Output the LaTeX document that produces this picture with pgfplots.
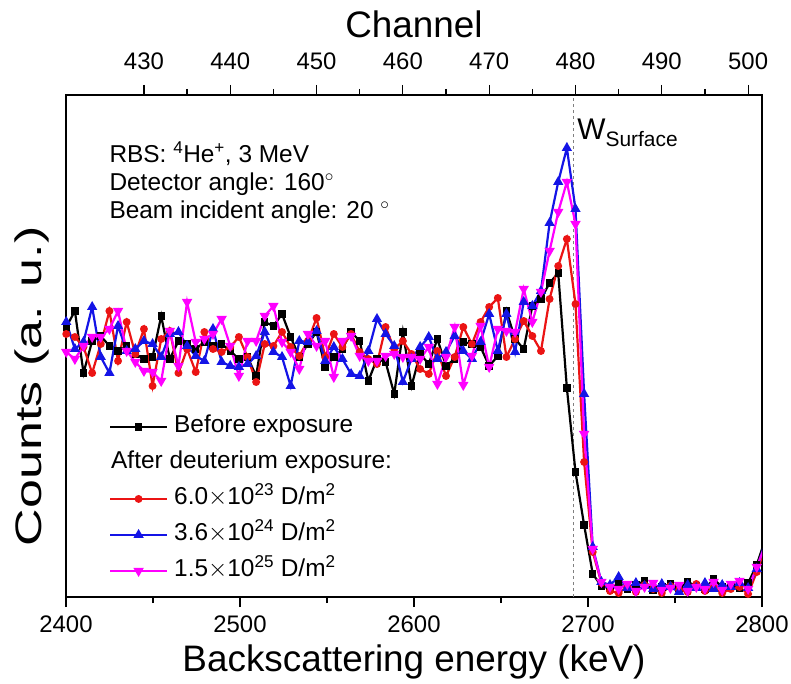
\documentclass[border=0pt]{standalone}
\usepackage{pgfplots}
\pgfplotsset{compat=1.18}
\usepackage{pgfplotstable}
\usepackage{fontspec}
\setmainfont{Liberation Sans}

% c = channel, k = before exposure, r = 6.0e23, b = 3.6e24, m = 1.5e25
\pgfplotstableread{
c   k   r   b   m
421 270 263 275 245
422 286 260 248 238
423 224 250 255 251
424 256 224 290 260
425 261 253 240 260
426 251 286 224 268
427 246 236 271 286
428 251 275 246 246
429 243 243 248 235
430 238 268 256 226
431 240 211 253 225
432 281 258 240 216
433 238 266 263 266
434 256 224 265 231
435 253 248 251 295
436 248 225 241 255
437 255 265 236 258
438 251 248 268 263
439 253 245 235 278
440 246 250 231 251
441 238 260 230 221
442 240 240 233 256
443 221 215 241 256
444 275 253 265 281
445 271 251 245 291
446 283 265 240 255
447 260 250 211 245
448 240 241 256 228
449 253 256 255 263
450 265 279 266 251
451 230 240 236 256
452 240 263 250 220
453 248 250 238 256
454 265 263 223 261
455 256 245 221 241
456 216 238 246 236
457 238 233 278 236
458 235 270 263 241
459 203 248 251 243
460 265 256 215 240
461 211 243 238 240
462 243 228 250 238
463 233 223 260 250
464 258 246 238 213
465 231 221 245 240
466 238 240 261 270
467 255 270 246 212
468 253 253 238 241
469 250 275 255 271
470 231 290 283 230
471 241 299 246 268
472 286 240 283 266
473 258 258 245 265
474 248 276 295 308
475 291 261 291 275
476 298 246 306 305
477 314 298 374 346
478 324 331 415 385
479 209 358 449 415
480 125 293 388 373
481 72  135 203 163
482 23  45  50  48
483 11  14  15  15
484 9   6   12  10
485 14  4   20  8
486 8   10  9   13
487 12  5   14  6
488 16  12  11  10
489 7   8   8   14
490 10  4   13  7
491 13  11  10  9
492 9   7   5   12
493 15  5   12  6
494 11  13  9   10
495 8   6   14  8
496 18  9   8   15
497 10  4   12  7
498 12  8   10  13
499 9   10  14  16
500 14  3   9   8
501 32  25  28  30
502 58  50  55  52
}\spectra

\definecolor{cred}{RGB}{235,20,20}
\definecolor{cblue}{RGB}{20,20,230}
\definecolor{cmag}{RGB}{255,0,255}

\pgfplotsset{
  rbs/.style={
    scale only axis, width=696bp, height=502bp,
    ymin=0, ymax=502, ytick=\empty,
    tick align=outside,
    major tick length=10bp, minor tick length=6bp,
    minor x tick num=1,
    axis line style={line width=1.4bp},
    every tick/.style={black, line width=1.2bp},
    ticklabel style={font=\fontsize{24}{28}\selectfont},
    label style={font=\fontsize{37}{40}\selectfont},
    /pgf/number format/assume math mode=true,
    /pgf/number format/1000 sep={},
  },
}

\begin{document}
\begin{tikzpicture}
\begin{axis}[rbs, name=main,
    xmin=2400, xmax=2800,
    xtick={2400,2500,...,2800},
    xtick pos=left,
    xticklabel style={yshift=-5bp},
    xlabel={Backscattering energy (keV)},
    ylabel={Counts (a. u.)},
    xlabel style={yshift=-5bp},
    ylabel style={at={(rel axis cs:-0.049,0.42)}, anchor=center, xscale=1.41},
  ]
  \node[anchor=base west, font=\fontsize{24.5}{28}\selectfont]
    at (rel axis cs:0.0575,0.866) {RBS: \textsuperscript{4}He\textsuperscript{+}, 3 MeV};
  \node[anchor=base west, font=\fontsize{24.5}{28}\selectfont]
    at (rel axis cs:0.0575,0.810) {Detector angle: 160\textsuperscript{$\circ$}};
  \node[anchor=base west, font=\fontsize{24.5}{28}\selectfont]
    at (rel axis cs:0.0575,0.754) {Beam incident angle: 20 \textsuperscript{$\circ$}};
\end{axis}

\begin{axis}[rbs,
    xmin=420.97, xmax=501.61,
    axis x line*=top, axis y line=none,
    xtick={430,440,...,500},
    xticklabel style={yshift=12bp},
    xlabel={Channel},
    xlabel style={yshift=8bp},
    legend style={
      at={(rel axis cs:0.0615,0.367)}, anchor=north west,
      draw=none, fill=none, inner sep=0pt,
      row sep=8bp, column sep=4bp,
      font=\fontsize{24.5}{28}\selectfont,
      nodes={inner sep=2bp, text height=18bp, text depth=6bp},
      cells={anchor=west},
    },
    legend image code/.code={
      \draw[mark repeat=2, mark phase=2, #1]
        plot coordinates {(0bp,0bp) (28.5bp,0bp) (57bp,0bp)};
    },
  ]
  \addplot[gray, dashed, line width=1bp, forget plot]
    coordinates {(479.8,0) (479.8,502)};

  \addplot[black, line width=2.2bp, mark=square*, mark size=2.6bp]
    table[x=c, y=k] {\spectra};
  \addlegendentry{Before exposure}
  \addlegendimage{empty legend}
  \addlegendentry{\hspace{-63bp}After deuterium exposure:}
  \addplot[cred, line width=2.2bp, mark=*, mark size=2.8bp]
    table[x=c, y=r] {\spectra};
  \addlegendentry{6.0$\times$10\textsuperscript{23} D/m\textsuperscript{2}}
  \addplot[cblue, line width=2.2bp, mark=triangle*, mark size=3.8bp]
    table[x=c, y=b] {\spectra};
  \addlegendentry{3.6$\times$10\textsuperscript{24} D/m\textsuperscript{2}}
  \addplot[cmag, line width=2.2bp, mark=triangle*, mark size=3.8bp,
      mark options={rotate=180}]
    table[x=c, y=m] {\spectra};
  \addlegendentry{1.5$\times$10\textsuperscript{25} D/m\textsuperscript{2}}

  \node[anchor=base west, inner sep=0pt, font=\fontsize{30}{32}\selectfont]
    at (axis cs:480.2,457) {W\textsubscript{Surface}};
\end{axis}

\pgfresetboundingbox
\path[use as bounding box]
  ([shift={(-66bp,-87bp)}]main.south west) rectangle ([shift={(29bp,95bp)}]main.north east);
\end{tikzpicture}
\end{document}
